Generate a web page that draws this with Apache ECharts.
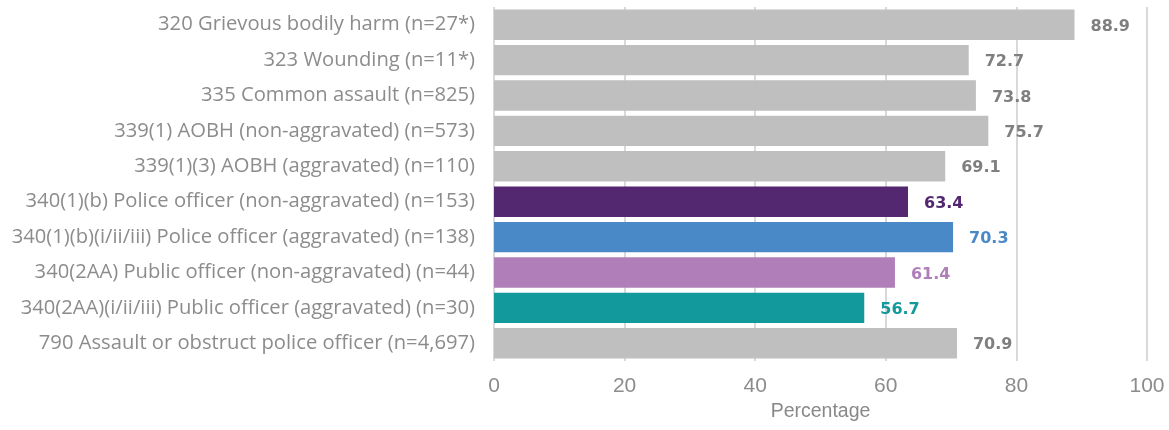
<!DOCTYPE html>
<html>
<head>
<meta charset="utf-8">
<script src="https://cdn.jsdelivr.net/npm/echarts@6/dist/echarts.min.js"></script>
<style>html,body{margin:0;padding:0;background:#fff;}#c{width:1169px;height:430px;}</style>
</head>
<body>
<div id="c"></div>
<script>
const categories = [
  "320 Grievous bodily harm (n=27*)",
  "323 Wounding (n=11*)",
  "335 Common assault (n=825)",
  "339(1) AOBH (non-aggravated) (n=573)",
  "339(1)(3) AOBH (aggravated) (n=110)",
  "340(1)(b) Police officer (non-aggravated) (n=153)",
  "340(1)(b)(i/ii/iii) Police officer (aggravated) (n=138)",
  "340(2AA) Public officer (non-aggravated) (n=44)",
  "340(2AA)(i/ii/iii) Public officer (aggravated) (n=30)",
  "790 Assault or obstruct police officer (n=4,697)"
];
const values = [88.9, 72.7, 73.8, 75.7, 69.1, 63.4, 70.3, 61.4, 56.7, 70.9];
const barColors = ["#BFBFBF","#BFBFBF","#BFBFBF","#BFBFBF","#BFBFBF","#532870","#4A89C8","#B07FBA","#12999B","#BFBFBF"];
const labelColors = ["#7F7F7F","#7F7F7F","#7F7F7F","#7F7F7F","#7F7F7F","#532870","#4A89C8","#B07FBA","#12999B","#7F7F7F"];
const xTicks = [0, 20, 40, 60, 80, 100];

const chart = echarts.init(document.getElementById('c'));
chart.setOption({
  animation: false,
  grid: {left: 494, right: 22, top: 7, bottom: 69, containLabel: false},
  xAxis: {
    type: 'value', min: xTicks[0], max: xTicks[xTicks.length-1], interval: xTicks[1]-xTicks[0],
    name: 'Percentage', nameLocation: 'middle', nameGap: 40,
    nameTextStyle: {color: '#888888', fontSize: 19.5, fontFamily: 'Liberation Sans'},
    axisLine: {show: false}, axisTick: {show: false},
    axisLabel: {color: '#8C8C8C', fontSize: 21, fontFamily: 'Liberation Sans', margin: 15},
    splitLine: {show: true, lineStyle: {color: '#D9D9D9', width: 2}}
  },
  yAxis: {
    type: 'category', data: categories, inverse: true,
    axisLine: {show: false}, axisTick: {show: false},
    axisLabel: {color: '#8C8C8C', fontSize: 20.2, fontFamily: 'Open Sans', margin: 19}
  },
  series: [{
    type: 'bar',
    data: values.map((v, i) => ({value: v, itemStyle: {color: barColors[i]},
      label: {color: labelColors[i]}})),
    barCategoryGap: '14%',
    label: {show: true, position: 'right', distance: 16, offset: [0, 2], fontWeight: 'bold', fontSize: 16,
      fontFamily: 'DejaVu Sans', formatter: p => p.value.toFixed(1)}
  }]
});
</script>
</body>
</html>
